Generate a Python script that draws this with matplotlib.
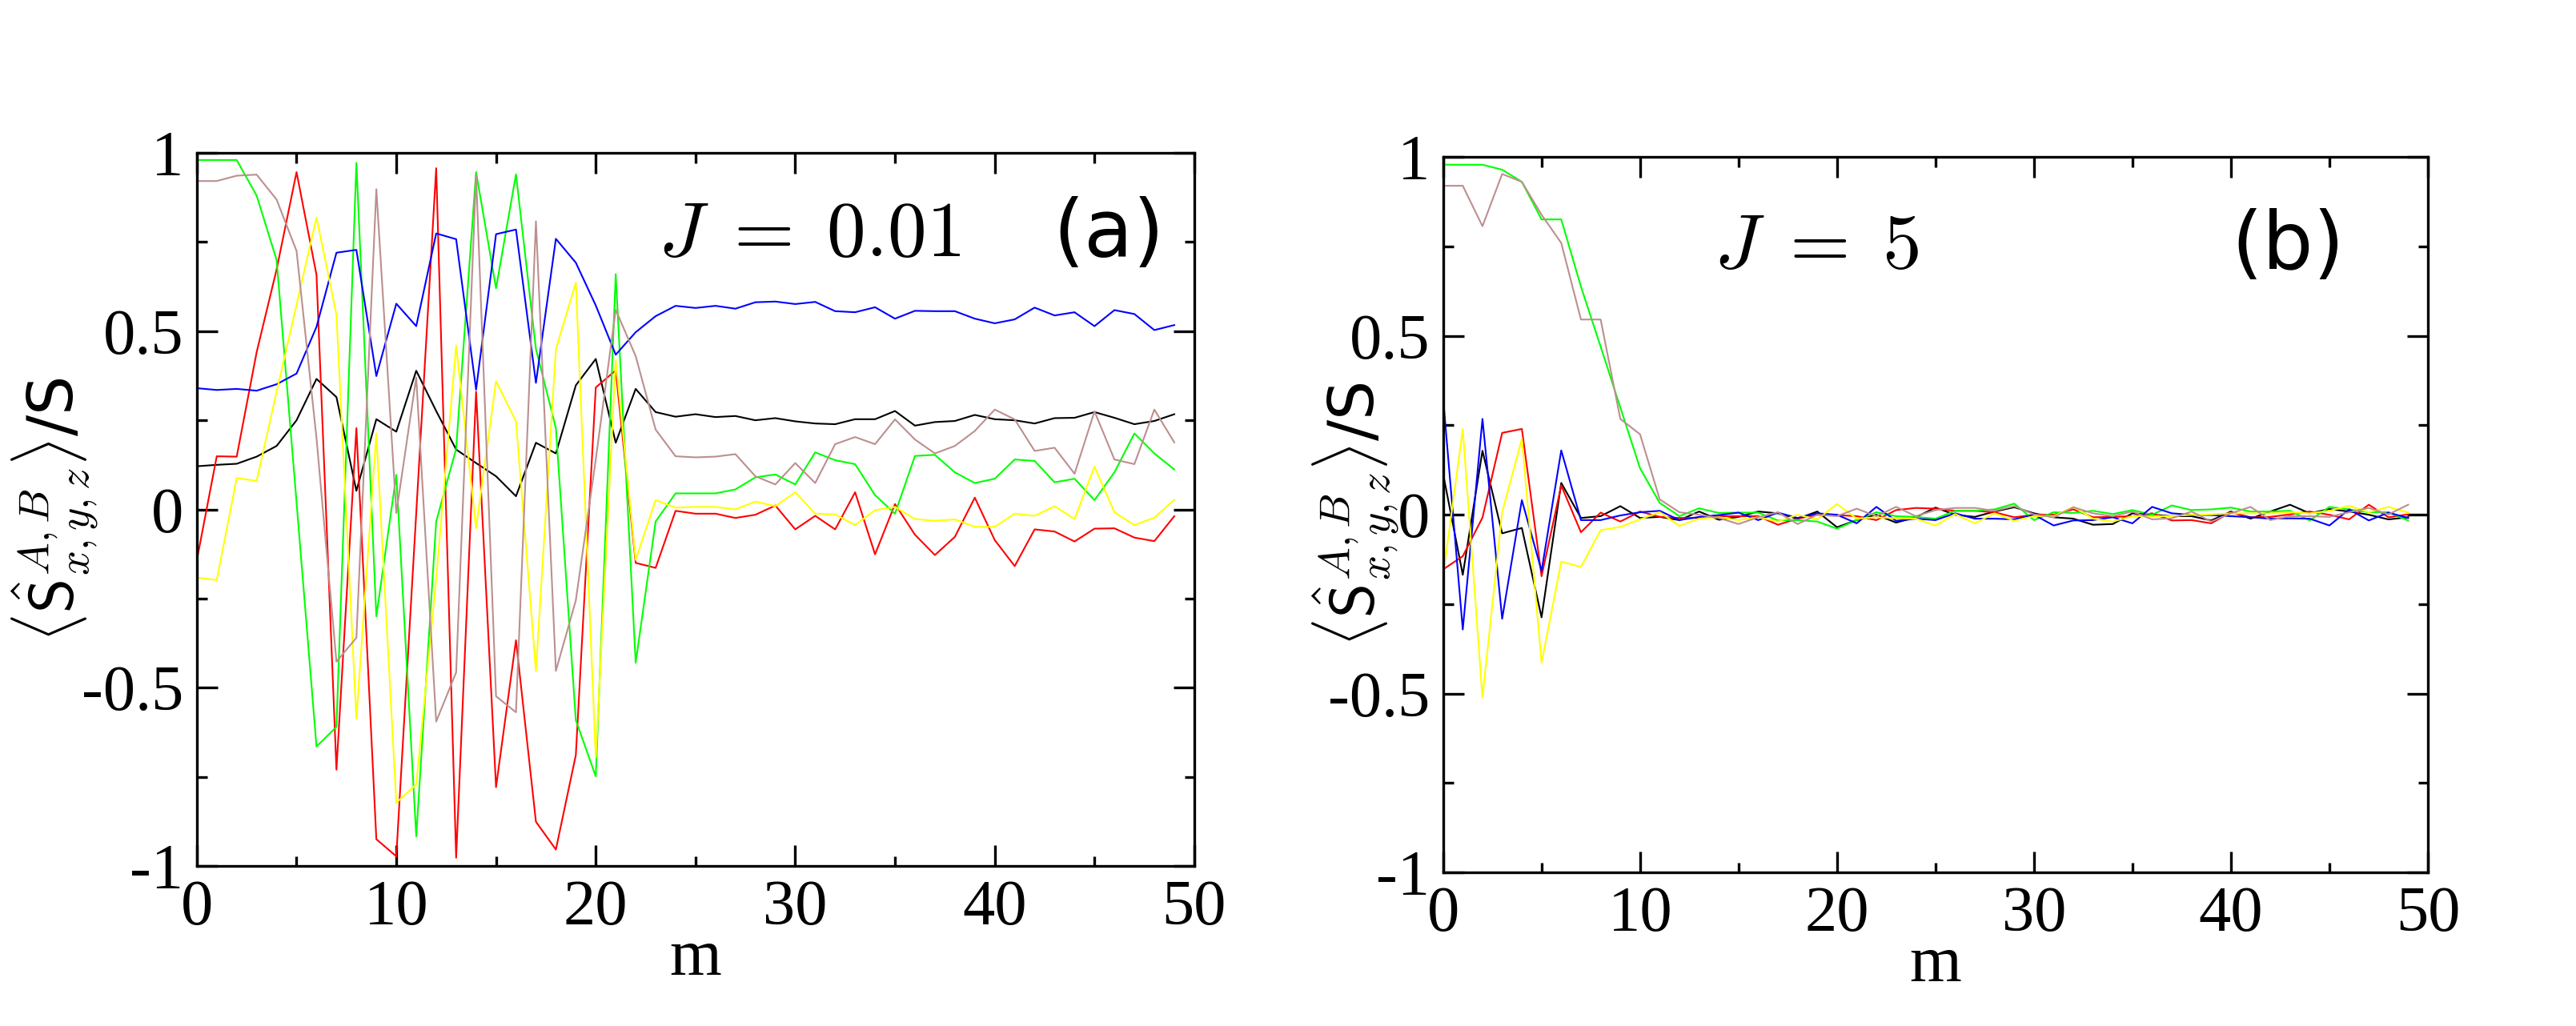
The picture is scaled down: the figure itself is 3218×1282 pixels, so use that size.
import numpy as np
import matplotlib
matplotlib.use("Agg")
import matplotlib.pyplot as plt
from matplotlib.ticker import FixedLocator, MultipleLocator

plt.rcParams['mathtext.fontset'] = 'cm'

m = np.arange(50)

# panel (a): J = 0.01
a_black = [0.121, 0.125, 0.128, 0.148, 0.178, 0.25, 0.366, 0.315, 0.052, 0.253,
           0.218, 0.389, 0.276, 0.168, 0.13, 0.093, 0.037, 0.187, 0.157, 0.348,
           0.422, 0.187, 0.338, 0.273, 0.26, 0.267, 0.259, 0.262, 0.25, 0.256,
           0.247, 0.241, 0.239, 0.253, 0.253, 0.276, 0.235, 0.245, 0.248, 0.265,
           0.253, 0.25, 0.241, 0.256, 0.257, 0.273, 0.257, 0.239, 0.248, 0.267]
a_red = [-0.143, 0.149, 0.148, 0.441, 0.673, 0.946, 0.658, -0.73, 0.228, -0.925,
         -0.973, -0.01, 0.957, -0.977, 0.33, -0.779, -0.367, -0.876, -0.954, -0.689,
         0.342, 0.39, -0.15, -0.164, -0.004, -0.012, -0.012, -0.024, -0.015, 0.011,
         -0.056, -0.018, -0.056, 0.048, -0.126, 0.015, -0.071, -0.128, -0.077, 0.033,
         -0.086, -0.159, -0.056, -0.062, -0.09, -0.054, -0.053, -0.079, -0.089, -0.019]
a_green = [0.98, 0.98, 0.98, 0.88, 0.70, 0.02, -0.665, -0.61, 0.972, -0.30,
           0.097, -0.917, -0.034, 0.17, 0.946, 0.62, 0.94, 0.45, 0.228, -0.591,
           -0.749, 0.66, -0.43, -0.034, 0.045, 0.045, 0.045, 0.056, 0.09, 0.098,
           0.07, 0.16, 0.138, 0.127, 0.04, -0.012, 0.15, 0.153, 0.104, 0.074,
           0.086, 0.14, 0.136, 0.076, 0.086, 0.026, 0.104, 0.213, 0.157, 0.112]
a_blue = [0.34, 0.335, 0.338, 0.333, 0.351, 0.381, 0.512, 0.72, 0.728, 0.374,
          0.577, 0.514, 0.774, 0.758, 0.336, 0.772, 0.785, 0.355, 0.759, 0.692,
          0.572, 0.434, 0.497, 0.542, 0.571, 0.565, 0.571, 0.563, 0.581, 0.583,
          0.576, 0.582, 0.556, 0.553, 0.567, 0.535, 0.557, 0.556, 0.556, 0.535,
          0.522, 0.533, 0.566, 0.544, 0.553, 0.514, 0.559, 0.548, 0.503, 0.517]
a_yellow = [-0.191, -0.198, 0.088, 0.08, 0.33, 0.574, 0.819, 0.546, -0.588, 0.213,
            -0.823, -0.771, -0.195, 0.46, -0.053, 0.36, 0.247, -0.453, 0.449, 0.636,
            -0.696, 0.419, -0.142, 0.026, 0.005, 0.007, 0.007, 0.0, 0.022, 0.009,
            0.048, -0.012, -0.014, -0.044, -0.002, 0.007, -0.027, -0.032, -0.028, -0.049,
            -0.049, -0.012, -0.018, 0.009, -0.027, 0.12, -0.008, -0.044, -0.023, 0.027]
a_brown = [0.921, 0.921, 0.936, 0.939, 0.869, 0.725, 0.2, -0.427, -0.36, 0.898,
           -0.01, 0.37, -0.595, -0.457, 0.937, -0.524, -0.569, 0.808, -0.453, -0.255,
           0.14, 0.56, 0.43, 0.224, 0.149, 0.146, 0.148, 0.155, 0.093, 0.07,
           0.13, 0.074, 0.183, 0.203, 0.183, 0.2525, 0.196, 0.157, 0.178, 0.22,
           0.28, 0.2525, 0.164, 0.173, 0.10, 0.275, 0.14, 0.127, 0.28, 0.188]

# panel (b): J = 5
b_black = [0.115, -0.168, 0.179, -0.052, -0.037, -0.287, 0.089, -0.009, -0.004, 0.024,
           -0.009, -0.006, -0.015, 0.009, -0.014, -0.006, 0.009, 0.004, -0.011, 0.009,
           -0.035, -0.015, 0.0, -0.022, -0.007, 0.02, 0.0, -0.006, 0.009, 0.021,
           0.004, -0.007, -0.011, -0.028, -0.026, 0.004, 0.0, -0.004, -0.004, -0.016,
           0.009, -0.011, 0.009, 0.028, 0.004, 0.016, 0.009, 0.0, -0.013, -0.007]
b_red = [-0.153, -0.116, -0.008, 0.229, 0.24, -0.172, 0.082, -0.049, 0.006, -0.019,
         0.009, -0.006, -0.009, -0.009, -0.004, -0.004, -0.004, -0.028, -0.011, 0.0,
         -0.001, -0.004, -0.015, 0.013, 0.019, 0.017, 0.011, 0.011, 0.007, -0.007,
         0.0, 0.0, 0.015, -0.007, -0.006, -0.004, 0.004, -0.016, -0.015, -0.024,
         0.007, -0.007, -0.006, 0.001, 0.009, 0.0, -0.013, 0.028, -0.007, 0.001]
b_green = [0.979, 0.979, 0.979, 0.965, 0.931, 0.826, 0.826, 0.638, 0.47, 0.30,
           0.13, 0.033, -0.004, 0.018, 0.005, 0.006, 0.006, -0.016, -0.015, -0.019,
           -0.039, -0.015, 0.007, -0.004, -0.006, -0.011, 0.011, 0.011, 0.015, 0.031,
           -0.015, 0.007, 0.005, 0.011, 0.002, 0.013, 0.0, 0.026, 0.013, 0.015,
           0.02, 0.009, 0.009, 0.011, -0.016, 0.022, 0.015, 0.007, 0.007, -0.016]
b_blue = [0.328, -0.321, 0.268, -0.291, 0.041, -0.157, 0.18, -0.015, -0.015, -0.002,
          0.007, 0.011, -0.015, -0.006, -0.001, 0.006, -0.015, 0.006, -0.009, 0.004,
          0.0, -0.024, 0.022, -0.017, -0.011, -0.015, 0.004, -0.011, -0.011, -0.013,
          0.0, -0.03, -0.016, -0.015, -0.007, -0.024, 0.022, 0.004, 0.0, -0.001,
          -0.004, -0.007, -0.011, -0.01, -0.011, -0.03, 0.015, -0.016, 0.006, -0.009]
b_yellow = [-0.172, 0.239, -0.511, 0.007, 0.212, -0.414, -0.131, -0.146, -0.043, -0.034,
            -0.013, 0.007, -0.031, -0.011, -0.007, -0.015, -0.007, -0.019, 0.0, -0.013,
            0.03, -0.011, -0.007, -0.01, -0.011, -0.03, 0.002, -0.024, 0.004, -0.017,
            -0.004, -0.004, 0.022, -0.011, -0.019, -0.004, -0.004, -0.004, 0.0, 0.001,
            0.004, 0.004, 0.004, 0.007, 0.004, 0.011, 0.025, 0.007, 0.022, 0.006]
b_brown = [0.92, 0.92, 0.807, 0.953, 0.931, 0.839, 0.76, 0.546, 0.546, 0.268,
           0.225, 0.043, 0.007, 0.0, -0.009, -0.026, -0.007, 0.007, -0.026, 0.0,
           -0.004, 0.017, -0.004, 0.022, -0.004, 0.013, 0.019, 0.019, 0.011, 0.024,
           0.001, -0.007, 0.021, 0.004, -0.004, 0.009, -0.013, -0.01, 0.009, -0.019,
           0.004, 0.022, -0.015, -0.004, -0.004, -0.006, 0.007, 0.019, 0.001, 0.028]

colors = ['black', '#ff0000', '#00ff00', '#0000ff', '#ffff00', '#bc8f8f']
xticks = [0, 10, 20, 30, 40, 50]
yticks = [-1, -0.5, 0, 0.5, 1]
ytick_labels = ['-1', '-0.5', '0', '0.5', '1']

fig = plt.figure(figsize=(32.18, 12.82), dpi=100)
ax_a = fig.add_axes([0.0764, 0.156, 0.3872, 0.695])
ax_b = fig.add_axes([0.5602, 0.1498, 0.3823, 0.697])

# axes, series, J text, its x/y, panel tag, its x, y-label x
panels = [
    (ax_a, [a_black, a_red, a_green, a_blue, a_yellow, a_brown],
     r'$J\;=\;0.01$', 0.462, 0.885, '(a)', 0.858, -0.097),
    (ax_b, [b_black, b_red, b_green, b_blue, b_yellow, b_brown],
     r'$J\;=\;5$', 0.275, 0.875, '(b)', 0.80, -0.043),
]

for ax, series, jtext, jx, jy, tag, tx, ylx in panels:
    for ys, c in zip(series, colors):
        ax.plot(m, ys, color=c, lw=1.5)
    ax.set_xlim(0, 50)
    ax.set_ylim(-1, 1)
    ax.xaxis.set_major_locator(FixedLocator(xticks))
    ax.xaxis.set_minor_locator(MultipleLocator(5))
    ax.yaxis.set_major_locator(FixedLocator(yticks))
    ax.yaxis.set_minor_locator(MultipleLocator(0.25))
    ax.set_xticklabels([str(t) for t in xticks])
    ax.set_yticklabels(ytick_labels)
    ax.tick_params(which='both', direction='in', top=True, right=True, width=2.4)
    ax.tick_params(which='major', length=19, labelsize=58, pad=12)
    ax.tick_params(which='minor', length=9)
    for lab in ax.get_xticklabels() + ax.get_yticklabels():
        lab.set_fontfamily('Liberation Serif')
    for s in ax.spines.values():
        s.set_linewidth(2.4)
    ax.set_xlabel('m', fontfamily='Liberation Serif', fontsize=60, labelpad=-8)
    ax.set_ylabel(r'$\langle\hat{\mathsf{S}}^{A,B}_{x,y,z}\rangle$/S',
                  fontfamily='DejaVu Sans', fontsize=56)
    ax.yaxis.set_label_coords(ylx, 0.5)
    ax.text(jx, jy, jtext, transform=ax.transAxes, fontsize=70,
            ha='left', va='center')
    ax.text(tx, jy, tag, transform=ax.transAxes, fontsize=72,
            fontfamily='DejaVu Sans', ha='left', va='center')

fig.savefig('out.png', dpi=100)
